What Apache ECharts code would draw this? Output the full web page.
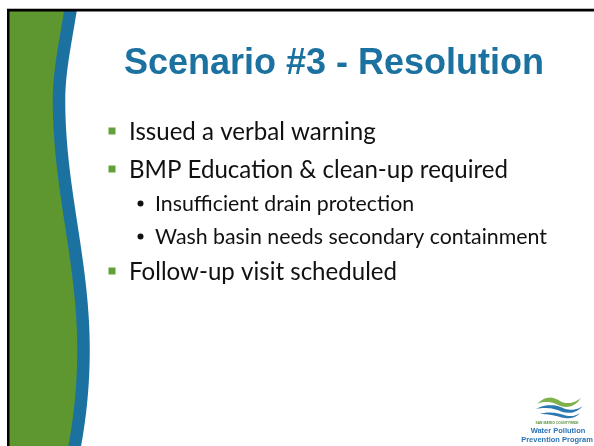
<!DOCTYPE html>
<html><head><meta charset="utf-8">
<script src="https://cdn.jsdelivr.net/npm/echarts@6/dist/echarts.min.js"></script>
<style>html,body{margin:0;padding:0;background:#fff}#c{width:594px;height:446px}</style>
</head><body><div id="c"></div>
<script>
var titleText = "Scenario #3 - Resolution";
var bulletTexts = ["Issued a verbal warning","BMP Education & clean-up required","Insufficient drain protection","Wash basin needs secondary containment","Follow-up visit scheduled"];
var bulletLevels = [1,1,2,2,1];
var bulletCapMid = [131.5,169.5,203,236,271.5];
var logoLines = ["SAN MATEO COUNTYWIDE","Water Pollution","Prevention Program"];

var GREEN = "#5e9630", BLUE = "#1b71a0", BULLET = "#62a03a";
var BODY_FONT = "Lato";

var cv = document.createElement('canvas').getContext('2d');
function fitSize(text, family, weight, target){
  cv.font = weight + " 100px " + family;
  return 100 * target / cv.measureText(text).width;
}
var s1 = fitSize(bulletTexts[1], BODY_FONT, "normal", 379);
var s2 = fitSize(bulletTexts[3], BODY_FONT, "normal", 392);

function sampleBez(segs, n){
  var pts = [];
  segs.forEach(function(s, k){
    for(var i=(k===0?0:1); i<=n; i++){
      var t=i/n, u=1-t;
      pts.push([u*u*u*s[0][0]+3*u*u*t*s[1][0]+3*u*t*t*s[2][0]+t*t*t*s[3][0],
                u*u*u*s[0][1]+3*u*u*t*s[1][1]+3*u*t*t*s[2][1]+t*t*t*s[3][1]]);
    }
  });
  return pts;
}
var curve = sampleBez([
  [[71.5,4],[66,40],[59,70],[59,100]],
  [[59,100],[59,190],[83.5,260],[83.5,350]],
  [[83.5,350],[83.5,390],[79,425],[73,455]]
], 30);
var greenPts = [[9,4]].concat(curve).concat([[9,455]]);

var chart = echarts.init(document.getElementById('c'), null, {renderer:'canvas'});
var g = [];
g.push({type:'polygon', shape:{points:greenPts}, style:{fill:GREEN}});
g.push({type:'polyline', shape:{points:curve}, style:{fill:null, stroke:BLUE, lineWidth:12.5}});
// cover above frame
g.push({type:'rect', shape:{x:0,y:0,width:594,height:9}, style:{fill:'#fff'}});
// frame
g.push({type:'rect', shape:{x:7,y:8.5,width:600,height:1}, style:{fill:'#777'}});
g.push({type:'rect', shape:{x:7,y:9,width:600,height:2.5}, style:{fill:'#000'}});
g.push({type:'rect', shape:{x:7,y:9,width:2.5,height:440}, style:{fill:'#000'}});
// title
g.push({type:'text', x:334, y:64.5, style:{text:titleText, font:"bold 36px 'Liberation Sans', Arial, sans-serif", fill:BLUE, align:'center', verticalAlign:'middle'}});
// bullets
bulletTexts.forEach(function(t,i){
  var lvl = bulletLevels[i], y = bulletCapMid[i];
  if(lvl===1){
    g.push({type:'rect', shape:{x:108.5,y:y-4,width:7,height:7}, style:{fill:BULLET}});
    g.push({type:'text', x:129, y:y+1, style:{text:t, font:s1.toFixed(2)+"px "+BODY_FONT, fill:'#111', align:'left', verticalAlign:'middle'}});
  } else {
    g.push({type:'circle', shape:{cx:140.5,cy:y+0.5,r:3}, style:{fill:'#111'}});
    g.push({type:'text', x:155, y:y+1, style:{text:t, font:s2.toFixed(2)+"px "+BODY_FONT, fill:'#111', align:'left', verticalAlign:'middle'}});
  }
});
// logo waves
function wave(segs, color){
  g.push({type:'polygon', shape:{points:sampleBez(segs, 12)}, style:{fill:color}});
}
wave([[[537,404],[545,396],[552,396],[560,401]],[[560,401],[567,405],[574,403],[581,398]],[[581,398],[575,407],[566,409],[558,405]],[[558,405],[550,401],[544,401],[537,404]]], '#7fb24a');
wave([[[536,409],[546,403],[556,405],[563,408]],[[563,408],[570,411],[577,410],[583,406]],[[583,406],[576,414],[567,414],[560,411]],[[560,411],[553,408],[545,407],[536,409]]], '#2a79b0');
wave([[[540,414],[549,411],[557,413],[564,415]],[[564,415],[570,417],[576,416],[580,413]],[[580,413],[575,419],[566,419],[560,417]],[[560,417],[553,415],[546,414],[540,414]]], '#2a79b0');
g.push({type:'text', x:557, y:423.5, style:{text:logoLines[0], font:"bold 3.3px 'Liberation Sans'", fill:'#5a8f3a', align:'center', verticalAlign:'middle'}});
g.push({type:'text', x:558, y:431, style:{text:logoLines[1], font:"bold 7.5px 'Liberation Sans Narrow', 'Liberation Sans'", fill:'#2a72b5', align:'center', verticalAlign:'middle'}});
g.push({type:'text', x:557, y:440, style:{text:logoLines[2], font:"bold 7.5px 'Liberation Sans Narrow', 'Liberation Sans'", fill:'#2a72b5', align:'center', verticalAlign:'middle'}});

chart.setOption({backgroundColor:'#fff', animation:false, graphic:{elements:g}});
</script></body></html>
